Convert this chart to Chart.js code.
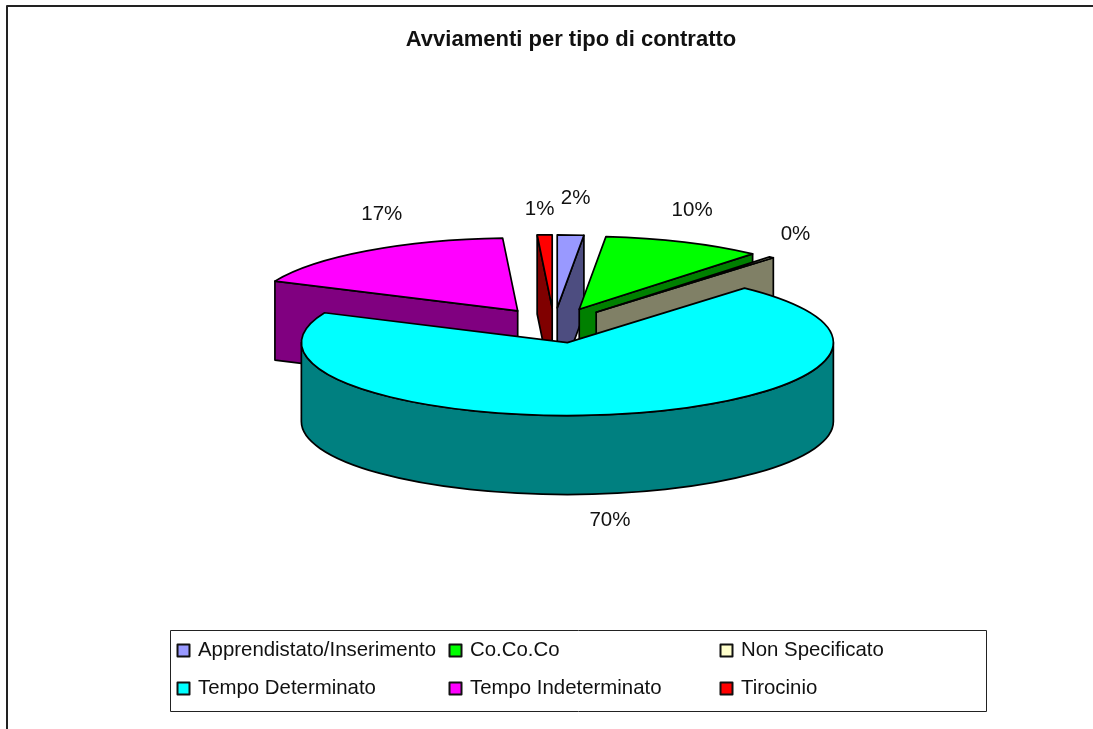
<!DOCTYPE html>
<html>
<head>
<meta charset="utf-8">
<title>Avviamenti per tipo di contratto</title>
<script src="https://cdn.jsdelivr.net/npm/chart.js@4/dist/chart.umd.min.js"></script>
<style>
  html, body { margin: 0; padding: 0; background: #fff; overflow: hidden; }
  canvas { display: block; }
</style>
</head>
<body>
<canvas id="ChartContratti" width="1093" height="729"></canvas>
<script>
  // Data (percent shares)
  const categories = ['Apprendistato/Inserimento', 'Co.Co.Co', 'Non Specificato', 'Tempo Determinato', 'Tempo Indeterminato', 'Tirocinio'];
  const shares = [1.6, 9.7, 0.3, 70.1, 17.4, 0.9];

  // Colors
  const sliceColors = ['#9999FF', '#00FF00', '#FFFFCC', '#00FFFF', '#FF00FF', '#FF0000'];
  const wallColors = ['#4D4D80', '#008000', '#808066', '#008080', '#800080', '#800000'];

  const font_family = '"Liberation Sans", Arial, sans-serif';

  // Look of the tilted pie
  const pie = { cx: 554, cy: 325.4, radius: 266, tilt: 0.2744, depth: 79, explode: 64 };

  // Distance of each percent label from the rim of its slice
  const labelShift = [[5, -37], [8, -32], [24, -23], [-13, 27], [15, -36], [-5, -26]];

  // Explode a slice along its own middle angle
  function sliceGeometry(arc) {
    const mid = (arc.startAngle + arc.endAngle) / 2;
    return {
      mid: mid,
      x: pie.cx + Math.cos(mid) * pie.explode,
      y: pie.cy + Math.sin(mid) * pie.explode * pie.tilt,
      rx: arc.outerRadius,
      ry: arc.outerRadius * pie.tilt
    };
  }

  function outline(ctx) {
    ctx.lineWidth = 1.7;
    ctx.strokeStyle = '#000';
    ctx.lineJoin = 'round';
    ctx.stroke();
  }

  function radialWall(ctx, g, angle, fill) {
    const ex = g.x + Math.cos(angle) * g.rx;
    const ey = g.y + Math.sin(angle) * g.ry;
    ctx.beginPath();
    ctx.moveTo(g.x, g.y);
    ctx.lineTo(ex, ey);
    ctx.lineTo(ex, ey + pie.depth);
    ctx.lineTo(g.x, g.y + pie.depth);
    ctx.closePath();
    ctx.fillStyle = fill;
    ctx.fill();
    outline(ctx);
  }

  function outerWall(ctx, g, arc, fill) {
    // only the part of the rim that faces the viewer
    const a0 = Math.max(arc.startAngle, 0);
    const a1 = Math.min(arc.endAngle, Math.PI);
    if (a1 <= a0) return;
    ctx.beginPath();
    ctx.ellipse(g.x, g.y, g.rx, g.ry, 0, a0, a1);
    ctx.ellipse(g.x, g.y + pie.depth, g.rx, g.ry, 0, a1, a0, true);
    ctx.closePath();
    ctx.fillStyle = fill;
    ctx.fill();
    outline(ctx);
  }

  const tiltedPie = {
    id: 'tiltedPie',
    beforeDatasetDraw(chart, args) {
      const ctx = chart.ctx;
      const arcs = args.meta.data;
      // back to front: left side slices, then clockwise, the big front slice last
      const order = [4, 5, 0, 1, 2, 3];
      order.forEach(function (i) {
        const arc = arcs[i];
        const g = sliceGeometry(arc);
        if (Math.cos(arc.startAngle) < 0) radialWall(ctx, g, arc.startAngle, wallColors[i]);
        if (Math.cos(arc.endAngle) > 0) radialWall(ctx, g, arc.endAngle, wallColors[i]);
        outerWall(ctx, g, arc, wallColors[i]);

        // top face is the library's own arc, squashed
        ctx.save();
        ctx.translate(g.x, g.y);
        ctx.scale(1, pie.tilt);
        ctx.translate(-arc.x, -arc.y);
        arc.draw(ctx);
        ctx.restore();

        ctx.beginPath();
        ctx.moveTo(g.x, g.y);
        ctx.ellipse(g.x, g.y, g.rx, g.ry, 0, arc.startAngle, arc.endAngle);
        ctx.closePath();
        outline(ctx);
      });
      return false;
    },
    afterDraw(chart) {
      const ctx = chart.ctx;
      const arcs = chart.getDatasetMeta(0).data;

      // Outer frame, open on the right and at the bottom
      ctx.beginPath();
      ctx.moveTo(7, 729);
      ctx.lineTo(7, 6);
      ctx.lineTo(1093, 6);
      ctx.lineWidth = 2;
      ctx.strokeStyle = '#222';
      ctx.stroke();

      // Percent labels
      ctx.font = '20.5px ' + font_family;
      ctx.fillStyle = '#111';
      ctx.textAlign = 'center';
      ctx.textBaseline = 'middle';
      arcs.forEach(function (arc, i) {
        const g = sliceGeometry(arc);
        const front = Math.sin(g.mid) > 0 ? pie.depth : 0;
        const x = g.x + Math.cos(g.mid) * g.rx + labelShift[i][0];
        const y = g.y + Math.sin(g.mid) * g.ry + front + labelShift[i][1];
        ctx.fillText(Math.round(shares[i]) + '%', x, y);
      });

      // Legend box, three columns over two rows
      const box = { x: 170.5, y: 630.5, w: 816, h: 81 };
      const columns = [177, 449, 720];
      const rows = [644, 682];
      ctx.fillStyle = '#fff';
      ctx.strokeStyle = '#222';
      ctx.lineWidth = 1;
      ctx.fillRect(box.x, box.y, box.w, box.h);
      ctx.strokeRect(box.x, box.y, box.w, box.h);
      ctx.textAlign = 'left';
      ctx.font = '20.4px ' + font_family;
      categories.forEach(function (name, i) {
        const sx = columns[i % 3];
        const sy = rows[Math.floor(i / 3)];
        ctx.fillStyle = sliceColors[i];
        ctx.fillRect(sx + 0.5, sy + 0.5, 12, 12);
        ctx.lineWidth = 2;
        ctx.strokeStyle = '#111';
        ctx.strokeRect(sx + 0.5, sy + 0.5, 12, 12);
        ctx.fillStyle = '#111';
        ctx.fillText(name, sx + 21, sy + 6.5);
      });
    }
  };

  const chart_contratti = document.getElementById('ChartContratti');
  const ctp = chart_contratti.getContext('2d');
  const PieChart = new Chart(ctp, {
    type: 'pie',
    data: {
      labels: categories,
      datasets: [{
        label: 'Avviamenti',
        data: shares,
        backgroundColor: sliceColors,
        borderWidth: 0,
        radius: pie.radius
      }]
    },
    options: {
      responsive: false,
      animation: false,
      layout: {
        padding: { left: 49 }
      },
      plugins: {
        legend: {
          display: false
        },
        tooltip: {
          enabled: false
        },
        title: {
          display: true,
          text: 'Avviamenti per tipo di contratto',
          color: '#111',
          font: { family: font_family, size: 22, weight: 'bold' },
          padding: { top: 27, bottom: 10 }
        }
      }
    },
    plugins: [tiltedPie]
  });
</script>
</body>
</html>
